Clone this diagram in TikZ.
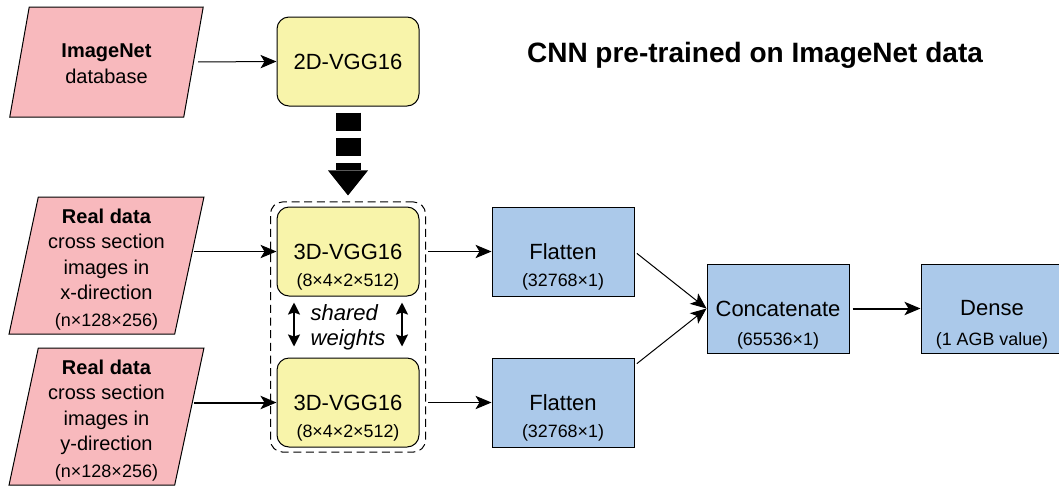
\documentclass[tikz,border=0pt]{standalone}
\usepackage{fontspec}
\setmainfont{Liberation Sans}
\usetikzlibrary{arrows.meta,positioning,fit,calc,shapes.geometric}

\definecolor{inpink}{HTML}{F8B9BD}
\definecolor{vggyellow}{HTML}{F8F4AA}
\definecolor{layerblue}{HTML}{ABC9EA}

\begin{document}
\begin{tikzpicture}[x=0.75pt,y=-0.75pt,>={Stealth[length=12pt,width=10pt,inset=3pt]},
  datain/.style={trapezium,trapezium stretches=true,draw,line width=0.75pt,fill=inpink,align=center,inner sep=1pt,minimum width=146.25pt,font=\fontsize{15}{19}\selectfont},
  imnetshape/.style={trapezium left angle=76,trapezium right angle=104,minimum height=82.5pt},
  realshape/.style={trapezium left angle=79,trapezium right angle=101,minimum height=102.75pt},
  vggbox/.style={draw,rounded corners=9pt,fill=vggyellow,line width=0.75pt,minimum width=106.5pt,minimum height=66.75pt,font=\fontsize{16.5}{19}\selectfont},
  layerbox/.style={draw,fill=layerblue,line width=0.75pt,minimum width=106.5pt,minimum height=66.75pt,font=\fontsize{16.5}{19}\selectfont},
  dims/.style={anchor=base,inner sep=0pt,font=\fontsize{13.4}{16}\selectfont},
  sharedbox/.style={draw,dash pattern=on 6pt off 3.5pt,rounded corners=9pt,line width=0.75pt,inner xsep=4.5pt,inner ysep=3.4pt},
  conn/.style={->,line width=0.75pt},
  bigarrow/.style={line width=18.75pt,dash pattern=on 13.5pt off 5.25pt,shorten <=4.5pt,shorten >=4.5pt,-{Triangle[width=30pt,length=18.75pt,line width=0pt]}},
  weightarrow/.style={{Stealth[length=9pt,width=9pt,inset=1.5pt]}-{Stealth[length=9pt,width=9pt,inset=1.5pt]},line width=1.5pt}]
\useasboundingbox (0,0) rectangle (1059,486);

% inputs
\node[datain,imnetshape] (imnet) at (106.5,62) {\rule{0pt}{13pt}\textbf{ImageNet}\\[1pt]database};
\node[datain,realshape] (realx) at (106.5,265.5) {\rule{0pt}{17pt}\textbf{Real data}\\cross section\\images in\\x-direction\\[1pt]{\fontsize{13.5}{16}\selectfont (n×128×256)}};
\node[datain,realshape] (realy) at (106.5,416.5) {\rule{0pt}{17pt}\textbf{Real data}\\cross section\\images in\\y-direction\\[1pt]{\fontsize{13.5}{16}\selectfont (n×128×256)}};

% networks
\node[vggbox] (vgg2d) at (348,61.5) {2D-VGG16};
\node[vggbox] (vgg3x) at (348,251.5) {3D-VGG16};
\node[vggbox] (vgg3y) at (348,402.5) {3D-VGG16};
\node[dims] (vgg3xdim) at ([yshift=-26.6pt]vgg3x.center) {(8×4×2×512)};
\node[dims] (vgg3ydim) at ([yshift=-26.6pt]vgg3y.center) {(8×4×2×512)};
\node[sharedbox,fit=(vgg3x)(vgg3y)] (shared) {};
\node[align=left,font=\fontsize{16.5}{18.75}\selectfont\itshape] (weightlabel) at ($(vgg3x.south)!0.5!(vgg3y.north)$) {shared\\weights};

% layers
\node[layerbox] (flatx) at (563,251.5) {Flatten};
\node[layerbox] (flaty) at (563,402.5) {Flatten};
\node[layerbox] (concat) at (778,308.5) {Concatenate};
\node[layerbox] (dense) at (992,308.5) {Dense};
\node[dims] (flatxdim) at ([yshift=-26.6pt]flatx.center) {(32768×1)};
\node[dims] (flatydim) at ([yshift=-26.6pt]flaty.center) {(32768×1)};
\node[dims] (concatdim) at ([yshift=-27.4pt]concat.center) {(65536×1)};
\node[dims] (densedim) at ([yshift=-27.4pt]dense.center) {(1 AGB value)};

\node[font=\fontsize{21}{25}\selectfont\bfseries,anchor=base] (title) at (755,62) {CNN pre-trained on ImageNet data};

\draw[conn,shorten <=3pt] (imnet.east) -- (vgg2d.west);
\draw[bigarrow] (vgg2d.south) -- (shared.north);
\draw[conn,shorten <=3pt] (realx.east |- vgg3x.west) -- (vgg3x.west);
\draw[conn,shorten <=3pt,line width=1.5pt] (realy.east |- vgg3y.west) -- (vgg3y.west);
\draw[weightarrow] ([xshift=-40.5pt,yshift=-4.5pt]vgg3x.south) -- ([xshift=-40.5pt,yshift=8.25pt]vgg3y.north);
\draw[weightarrow] ([xshift=40.5pt,yshift=-4.5pt]vgg3x.south) -- ([xshift=40.5pt,yshift=8.25pt]vgg3y.north);
\draw[conn,shorten <=1.5pt] (shared.east |- vgg3x.east) -- (flatx.west);
\draw[conn,shorten <=1.5pt] (shared.east |- vgg3y.east) -- (flaty.west);
\draw[conn,shorten <=2.25pt] (flatx.east) -- (concat.west);
\draw[conn,shorten <=2.25pt] ([yshift=-6pt]flaty.north east) -- (concat.west);
\draw[conn,shorten <=2.25pt,line width=1.5pt] (concat.east) -- (dense.west);
\end{tikzpicture}
\end{document}
